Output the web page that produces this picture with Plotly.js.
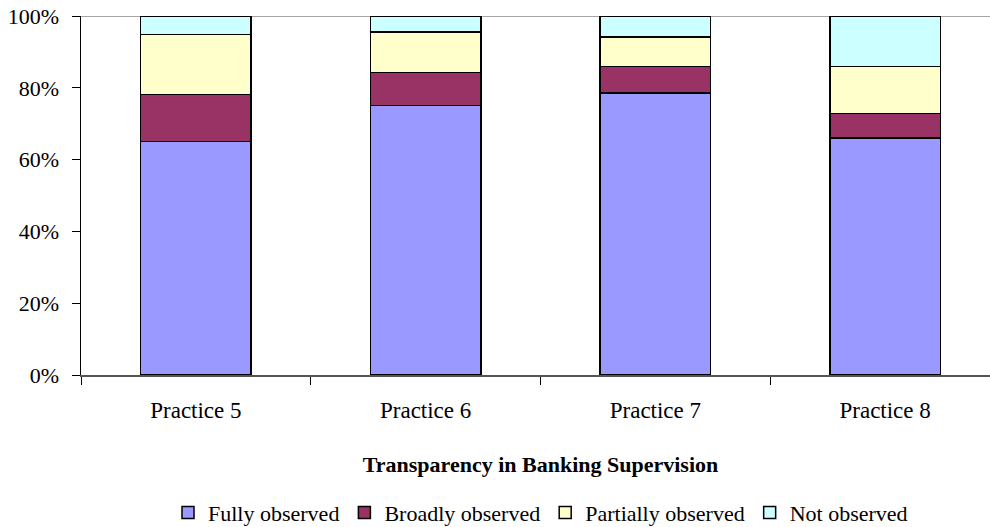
<!DOCTYPE html>
<html>
<head>
<meta charset="utf-8">
<script src="https://cdn.plot.ly/plotly-3.0.1.min.js"></script>
<style>
html,body{margin:0;padding:0;overflow:hidden;background:#fff;}
#chart{width:1010px;height:527px;}
</style>
</head>
<body>
<div id="chart"></div>
<script>
const categories = ["Practice 5", "Practice 6", "Practice 7", "Practice 8"];
const fullyObserved = [65.1, 75.1, 78.6, 66.0];
const broadlyObserved = [13.1, 9.2, 7.4, 6.9];
const partiallyObserved = [16.6, 11.2, 8.2, 13.1];
const notObserved = [5.2, 4.5, 5.8, 14.0];
const seriesNames = ["Fully observed", "Broadly observed", "Partially observed", "Not observed"];
const seriesColors = ["#9999FF", "#993366", "#FFFFCC", "#CCFFFF"];
const xTitle = "Transparency in Banking Supervision";

const font = "'Liberation Serif', 'Times New Roman', serif";
const seriesValues = [fullyObserved, broadlyObserved, partiallyObserved, notObserved];

const traces = seriesValues.map((vals, i) => ({
  type: "bar",
  name: seriesNames[i],
  x: categories,
  y: vals,
  marker: {color: seriesColors[i], line: {color: "#000", width: 1.5}},
  hoverinfo: "x+y+name"
}));

const layout = {
  width: 1010,
  height: 527,
  barmode: "stack",
  bargap: 0.52,
  margin: {l: 81, r: 10, t: 16, b: 152, autoexpand: false},
  paper_bgcolor: "#fff",
  plot_bgcolor: "#fff",
  font: {family: font, size: 22, color: "#000"},
  showlegend: true,
  legend: {
    orientation: "h",
    x: 0.5, xanchor: "center",
    yref: "container",
    y: 0.027, yanchor: "middle",
    font: {family: font, size: 22, color: "#000"},
    traceorder: "normal",
    itemwidth: 30
  },
  xaxis: {
    type: "category",
    automargin: false,
    tickson: "boundaries",
    ticks: "outside",
    ticklen: 8,
    tickcolor: "#000",
    showline: true,
    linecolor: "#555",
    linewidth: 1.5,
    showgrid: false,
    ticklabelstandoff: 14,
    tickfont: {family: font, size: 23},
    title: {text: "<b>" + xTitle + "</b>", font: {family: font, size: 22}, standoff: 34}
  },
  yaxis: {
    range: [0, 100],
    automargin: false,
    dtick: 20,
    ticksuffix: "%",
    ticks: "outside",
    ticklen: 8,
    tickcolor: "#000",
    showline: true,
    linecolor: "#000",
    linewidth: 1.5,
    showgrid: false,
    zeroline: false,
    ticklabelstandoff: 8,
    tickfont: {family: font, size: 22}
  },
  shapes: [{
    type: "line", xref: "paper", yref: "y",
    x0: 0, x1: 1, y0: 100, y1: 100,
    line: {color: "#888", width: 1.5},
    layer: "below"
  }]
};

Plotly.newPlot("chart", traces, layout, {displayModeBar: false, staticPlot: true});
</script>
</body>
</html>
